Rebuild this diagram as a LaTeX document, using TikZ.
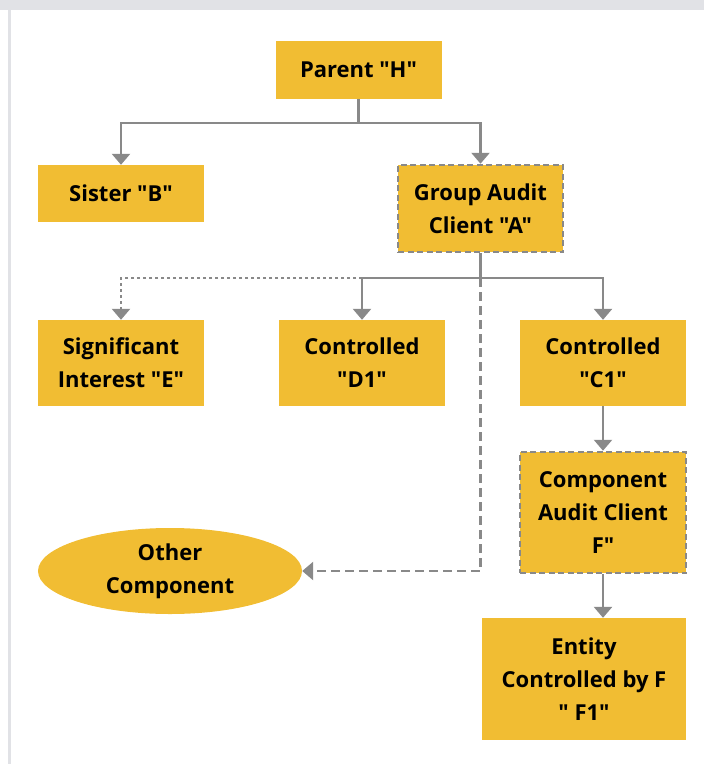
\documentclass[tikz,border=0pt]{standalone}
\usepackage{fontspec}
\setmainfont{Open Sans}[Ligatures=TeXOff]
\usetikzlibrary{arrows.meta,positioning,shapes.geometric}
\definecolor{boxyellow}{HTML}{F1BD33}
\definecolor{linegray}{HTML}{898989}
\definecolor{framegray}{HTML}{E1E2E6}
\tikzset{
  orgbox/.style={fill=boxyellow, align=center, inner sep=0pt,
    font=\bfseries\fontsize{22}{33}\selectfont},
  auditbox/.style={orgbox, draw=linegray, line width=2.5pt,
    dash pattern=on 6pt off 3.5pt},
  orgline/.style={draw=linegray, line width=2.6pt},
  orglink/.style={orgline, -{Triangle[width=18pt,length=11pt]}},
  dotlink/.style={orglink, dash pattern=on 2.8pt off 3.2pt},
  dashlink/.style={orglink, dash pattern=on 9pt off 5pt}
}
\begin{document}
\begin{tikzpicture}[x=1pt,y=-1pt]
  % frame
  \useasboundingbox (0,0) rectangle (704,764);
  \fill[framegray] (0,0) rectangle (704,10);
  \fill[framegray] (8,10) rectangle (11,764);

  % boxes
  \node[orgbox, minimum width=166, minimum height=58] (H) at (358.5,70) {Parent "H"};
  \node[orgbox, minimum width=166, minimum height=57] (B) at (121,193.5) {Sister "B"};
  \node[auditbox, minimum width=165, minimum height=87] (A) at (480.5,208.5) {Group Audit\\Client "A"};
  \node[orgbox, minimum width=166, minimum height=86] (E) at (121,363) {Significant\\Interest "E"};
  \node[orgbox, minimum width=166, minimum height=86] (D1) at (362,363) {Controlled\\"D1"};
  \node[orgbox, minimum width=166, minimum height=86] (C1) at (603,363) {Controlled\\"C1"};
  \node[auditbox, minimum width=166, minimum height=121] (F) at (603,512.5) {Component\\Audit Client\\F"};
  \node[orgbox, minimum width=204, minimum height=122] (F1) at (584,679) {Entity\\Controlled by F\\" F1"};
  \node[orgbox, ellipse, minimum width=264, minimum height=86] (O) at (170,571) {Other\\Component};

  % connectors
  \coordinate (hsplit) at (358.5,123);
  \coordinate (asplit) at (480.5,278);
  \coordinate (dsplit) at (362,278);
  \draw[orgline] (H) -- (hsplit);
  \draw[orglink] (hsplit) -| (B);
  \draw[orglink] (hsplit) -| (A);
  \draw[orgline] (A) -- (asplit);
  \draw[orglink] (asplit) -| (D1);
  \draw[orglink] (asplit) -| (C1);
  \draw[dotlink] (dsplit) -| (E);
  \draw[dashlink] (asplit) |- (O);
  \draw[orglink] (C1) -- (F);
  \draw[orglink] (F) -- (F.south |- F1.north);
\end{tikzpicture}
\end{document}
